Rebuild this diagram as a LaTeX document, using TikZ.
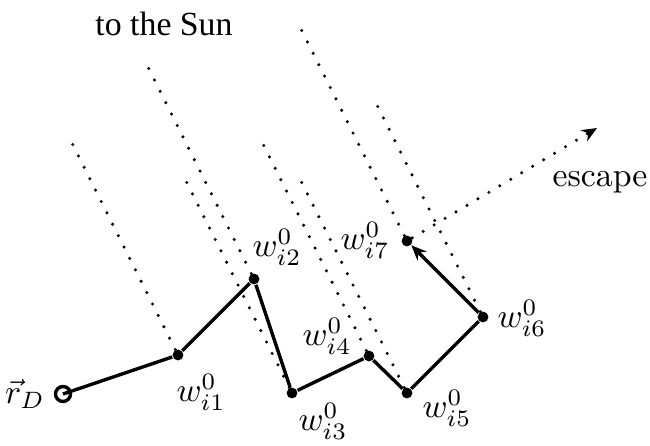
\documentclass[tikz,border=0pt]{standalone}
\usepackage{amsmath}
\usepackage{fontspec}
\newfontfamily\sunfont{Liberation Serif}
\usetikzlibrary{arrows.meta, calc}

\begin{document}
\begin{tikzpicture}[
    x=0.296pt, y=-0.296pt,
    >={Stealth[length=4.5pt, width=3.8pt]},
    pt/.style={circle, fill, inner sep=0pt, minimum size=3.2pt},
    walk/.style={line width=1pt},
    ray/.style={line width=1pt, line cap=round, dash pattern=on 0pt off 3.77pt},
    lbl/.style={inner sep=0pt},
]
    \useasboundingbox (0,0) rectangle (650,445);
    % points of the walk
    \coordinate (rD) at (63,394);
    \node[pt] (w1) at (178,355) {};
    \node[pt] (w2) at (254,279) {};
    \node[pt] (w3) at (292,393) {};
    \node[pt] (w4) at (369,356) {};
    \node[pt] (w5) at (407,393) {};
    \node[pt] (w6) at (483,317) {};
    \node[pt] (w7) at (407,241) {};
    % rays towards the Sun
    \foreach \p in {w1,w2,w3,w4,w5,w6,w7}
        \draw[ray] (\p) -- ($(\p)+(-109,-218)$);
    \coordinate (esc) at (597,128);
    \draw[ray, ->] (w7) -- (esc);
    % the walk
    \draw[walk] (rD) -- (w1) -- (w2) -- (w3) -- (w4) -- (w5) -- (w6);
    \draw[walk, ->] (w6) -- (w7);
    \draw[walk] (rD) circle[radius=7.5];
    % labels
    \node[lbl] (lrD) at ($(rD)+(-38,0)$) {$\vec{r}_D$};
    \node[lbl] (l1) at ($(w1)+(23,37)$) {$w^0_{i1}$};
    \node[lbl] (l2) at ($(w2)+(23,-32)$) {$w^0_{i2}$};
    \node[lbl] (l3) at ($(w3)+(31,28)$) {$w^0_{i3}$};
    \node[lbl] (l4) at ($(w4)+(-42,-20)$) {$w^0_{i4}$};
    \node[lbl] (l5) at ($(w5)+(40,15)$) {$w^0_{i5}$};
    \node[lbl] (l6) at ($(w6)+(39,1)$) {$w^0_{i6}$};
    \node[lbl] (l7) at ($(w7)+(-42,-1)$) {$w^0_{i7}$};
    \node[lbl] (sun) at (164,24) {\sunfont to the Sun};
    \node[lbl] (escape) at (600,182) {escape};
\end{tikzpicture}
\end{document}
